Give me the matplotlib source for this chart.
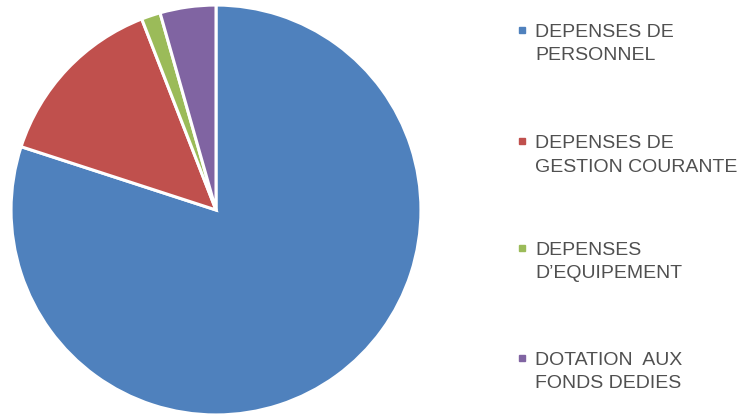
import matplotlib.pyplot as plt
from matplotlib.patches import Rectangle

labels = [["DEPENSES DE", "PERSONNEL"],
          ["DEPENSES DE", "GESTION COURANTE"],
          ["DEPENSES", "D\u2019EQUIPEMENT"],
          ["DOTATION  AUX", "FONDS DEDIES"]]
shares = [80.0, 14.1, 1.5, 4.4]
colors = ["#4F81BD", "#C0504D", "#9BBB59", "#8064A2"]

W, H = 745, 417
fig = plt.figure(figsize=(W / 100, H / 100), dpi=100)

# pie centred at (216, 210) px with radius ~206 px
cx, cy, r = 216, 210, 207
ax = fig.add_axes([(cx - r) / W, (H - cy - r) / H, 2 * r / W, 2 * r / H])
ax.pie(shares, colors=colors, startangle=90, counterclock=False,
       wedgeprops=dict(edgecolor="white", linewidth=2.2))
ax.set_xlim(-1.01, 1.01)
ax.set_ylim(-1.01, 1.01)
ax.set_aspect("equal")
ax.axis("off")

# legend drawn by hand: marker square and two text lines per entry
entry_y = [30, 141, 248, 358]
for y, lines, c in zip(entry_y, labels, colors):
    s = 6
    fig.patches.append(Rectangle(((522 - s / 2) / W, (H - y - s / 2) / H), s / W, s / H,
                                 transform=fig.transFigure, color=c))
    for i, txt in enumerate(lines):
        fig.text(535 / W, (H - y - 7 - 23.5 * i) / H, txt, fontsize=14,
                 family="Liberation Sans", color="#505050",
                 va="baseline", ha="left")

fig.savefig("out.png", dpi=100)
